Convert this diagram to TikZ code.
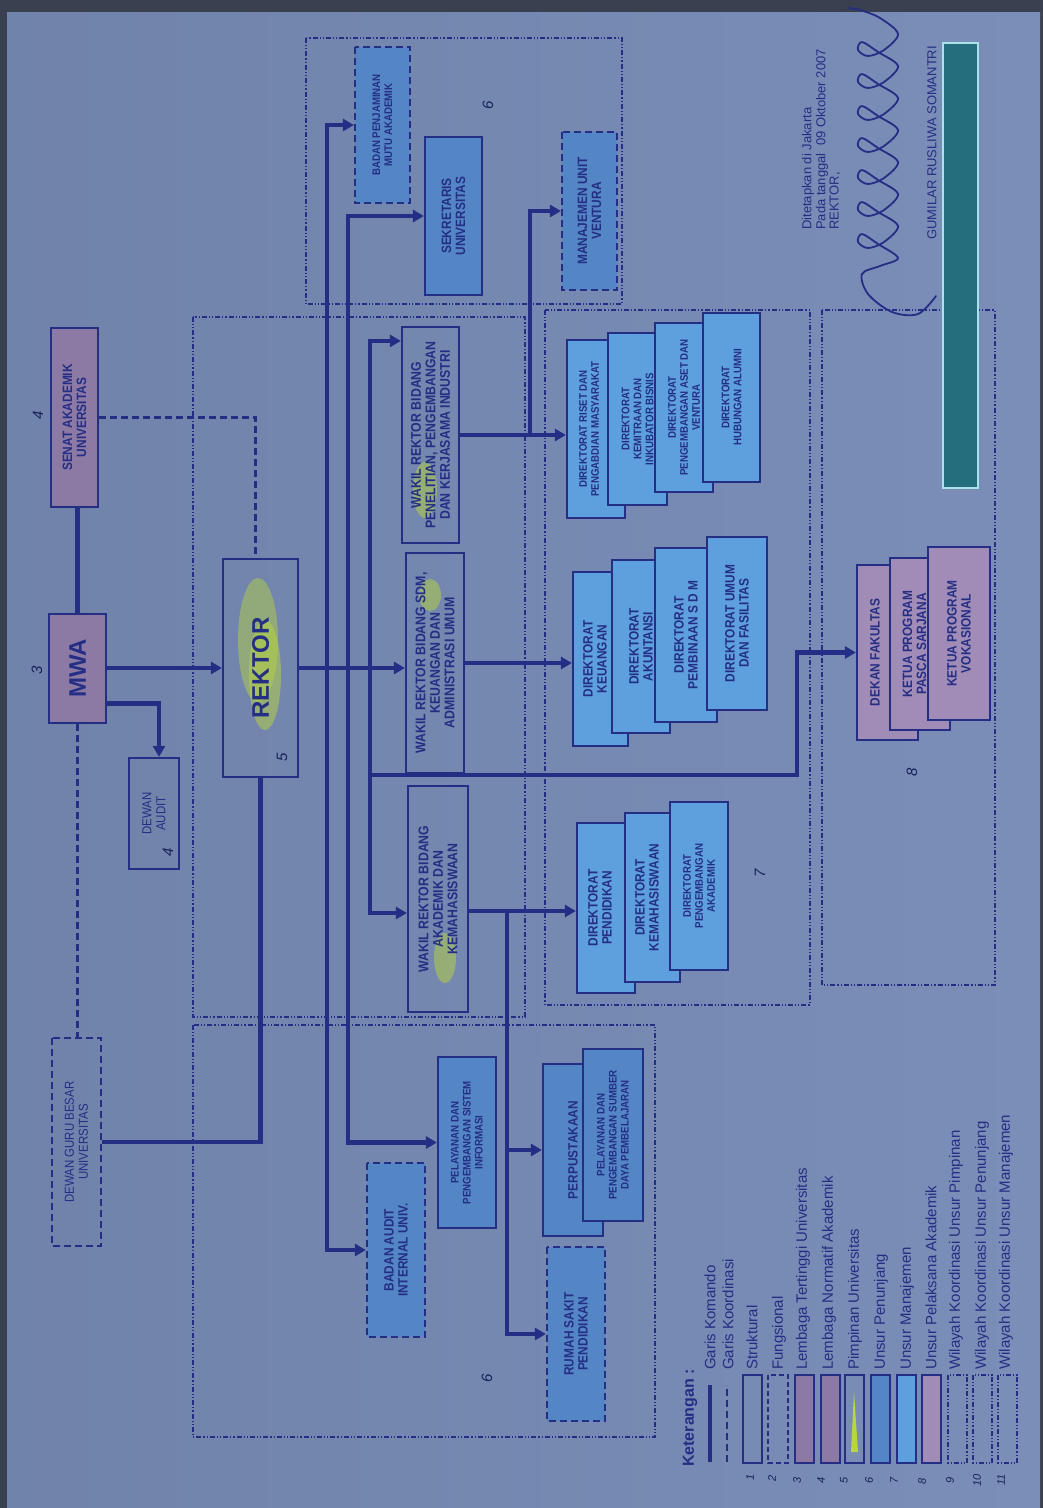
\documentclass[tikz,border=0pt]{standalone}
\usepackage{fontspec}
\setmainfont{Liberation Sans}
\newfontfamily\boxfont[FakeStretch=0.88]{Liberation Sans}
\usetikzlibrary{positioning, arrows.meta}
\definecolor{paper}{RGB}{122,142,184}
\definecolor{edge}{RGB}{58,64,80}
\definecolor{ink}{RGB}{36,46,132}
\definecolor{mauve}{RGB}{140,122,165}
\definecolor{pinky}{RGB}{160,140,182}
\definecolor{penblue}{RGB}{84,134,198}
\definecolor{manblue}{RGB}{94,160,222}
\definecolor{hilite}{RGB}{185,214,62}
\definecolor{redact}{RGB}{36,110,126}
\definecolor{redline}{RGB}{170,225,235}

\begin{document}
\begin{tikzpicture}[x=1pt, y=-1pt, font=\boxfont\bfseries, text=ink,
  box/.style={draw=ink, line width=2.2pt, rotate=90, align=center, inner sep=0pt},
  struk/.style={box}, fungs/.style={box, dash pattern=on 7pt off 4pt},
  lembaga/.style={box, fill=mauve}, penunjang/.style={box, fill=penblue},
  manaj/.style={box, fill=manblue}, pelaksana/.style={box, fill=pinky},
  lbl/.style={rotate=90, align=center, inner sep=0pt},
  fsbig/.style={font=\rmfamily\bfseries\fontsize{24}{24}\selectfont},
  fswr/.style={font=\boxfont\bfseries\fontsize{14}{14.5}\selectfont},
  fsmed/.style={font=\boxfont\bfseries\fontsize{13.5}{14}\selectfont},
  fssmall/.style={font=\boxfont\bfseries\fontsize{11}{12}\selectfont},
  fsplain/.style={font=\boxfont\mdseries\fontsize{13}{14}\selectfont},
  cmd/.style={draw=ink, line width=4.5pt},
  arrow/.style={cmd, -{Triangle[length=11pt,width=12pt]}},
  koord/.style={draw=ink, line width=2.2pt, dash pattern=on 7pt off 4pt},
  wilayah/.style={draw=ink, line width=1.4pt, dash pattern=on 5pt off 2pt on 1.2pt off 2pt on 1.2pt off 2pt},
  hand/.style={rotate=90, inner sep=0pt, font=\rmfamily\mdseries\itshape\fontsize{15}{15}\selectfont, text=ink!70!black},
  legtxt/.style={rotate=90, anchor=west, inner sep=0pt, font=\rmfamily\mdseries\fontsize{15}{15}\selectfont}]
\useasboundingbox (0,0) rectangle (1043,1508);
\fill[edge] (0,0) rectangle (1043,1508);
\shade[left color=paper!92!black, right color=paper] (7,12) rectangle (1040,1508);

\draw[wilayah] (306,38) rectangle (622,304);
\draw[wilayah] (193,317) rectangle (525,1017);
\draw[wilayah] (545,310) rectangle (810,1005);
\draw[wilayah] (822,310) rectangle (995,985);
\draw[wilayah] (193,1025) rectangle (655,1437);

\fill[hilite, opacity=0.45] (258,640) ellipse [x radius=20pt, y radius=62pt];
\fill[hilite, opacity=0.5] (265,675) ellipse [x radius=16pt, y radius=55pt];
\fill[hilite, opacity=0.5] (425,490) ellipse [x radius=12pt, y radius=28pt];
\fill[hilite, opacity=0.5] (430,595) ellipse [x radius=11pt, y radius=16pt];
\fill[hilite, opacity=0.5] (445,958) ellipse [x radius=11pt, y radius=25pt];

\coordinate (busA) at (327,665);
\coordinate (busB) at (348,665);
\coordinate (busC) at (370,665);
\coordinate (ventj) at (530,435);
\coordinate (penj) at (507,911);
\coordinate (fakturn) at (797,775);

\node[lembaga, fsmed, minimum width=179pt, minimum height=47pt] (senat) at (74.5,417.5) {SENAT AKADEMIK\\UNIVERSITAS};
\node[lembaga, fsbig, minimum width=109pt, minimum height=57pt] (mwa) at (77.5,668.5) {MWA};
\node[struk, fsplain, minimum width=111pt, minimum height=50pt] (audit) at (154,813.5) {DEWAN\\AUDIT};
\node[struk, fsbig, minimum width=218pt, minimum height=75pt] (rektor) at (260.5,668) {REKTOR};
\node[fungs, fsplain, minimum width=208pt, minimum height=49pt] (dgb) at (76.5,1142) {DEWAN GURU BESAR\\UNIVERSITAS};

\draw[cmd] (mwa.east) -- (mwa.east |- senat.west);
\draw[arrow] (mwa.south |- rektor.north) -- (rektor.north);
\draw[arrow] ([yshift=-35pt]mwa.south) -| ([xshift=5pt]audit.east);
\draw[koord] (senat.south) -| ([xshift=-5pt]rektor.east);
\draw[koord] (mwa.west) -- (mwa.west |- dgb.east);
\draw[cmd] (dgb.south) -| (rektor.west);

\node[fungs, fill=penblue, fssmall, minimum width=156pt, minimum height=55pt] (bpma) at (382.5,125) {BADAN PENJAMINAN\\MUTU AKADEMIK};
\node[penunjang, fsmed, minimum width=158pt, minimum height=57pt] (sekr) at (453.5,216) {SEKRETARIS\\UNIVERSITAS};
\node[fungs, fill=penblue, fsmed, minimum width=158pt, minimum height=55pt] (muv) at (589.5,211) {MANAJEMEN UNIT\\VENTURA};
\node[struk, fswr, minimum width=216pt, minimum height=57pt] (wrp) at (430.5,435) {WAKIL REKTOR BIDANG\\PENELITIAN, PENGEMBANGAN\\DAN KERJASAMA INDUSTRI};
\node[struk, fswr, minimum width=220pt, minimum height=58pt] (wrs) at (435,663) {WAKIL REKTOR BIDANG SDM,\\KEUANGAN DAN\\ADMINISTRASI UMUM};
\node[struk, fswr, minimum width=226pt, minimum height=60pt] (wra) at (438,899) {WAKIL REKTOR BIDANG\\AKADEMIK DAN\\KEMAHASISWAAN};

\node[manaj, minimum width=178pt, minimum height=58pt] (riset1) at (596,429) {};
\node[lbl, fssmall] (riset1t) at (589,429) {DIREKTORAT RISET DAN\\PENGABDIAN MASYARAKAT};
\node[manaj, fssmall, minimum width=172pt, minimum height=59pt] (riset2) at (637.5,419) {DIREKTORAT\\KEMITRAAN DAN\\INKUBATOR BISNIS};
\node[manaj, fssmall, minimum width=169pt, minimum height=58pt] (riset3) at (684,407.5) {DIREKTORAT\\PENGEMBANGAN ASET DAN\\VENTURA};
\node[manaj, fssmall, minimum width=169pt, minimum height=57pt] (riset4) at (731.5,397.5) {DIREKTORAT\\HUBUNGAN ALUMNI};

\node[manaj, minimum width=174pt, minimum height=55pt] (keu1) at (600.5,659) {};
\node[lbl, fsmed] (keu1t) at (595,659) {DIREKTORAT\\KEUANGAN};
\node[manaj, fsmed, minimum width=173pt, minimum height=58pt] (keu2) at (641,646.5) {DIREKTORAT\\AKUNTANSI};
\node[manaj, fsmed, minimum width=174pt, minimum height=62pt] (keu3) at (686,635) {DIREKTORAT\\PEMBINAAN S D M};
\node[manaj, fsmed, minimum width=173pt, minimum height=60pt] (keu4) at (737,623.5) {DIREKTORAT UMUM\\DAN FASILITAS};

\node[manaj, minimum width=170pt, minimum height=58pt] (pend1) at (606,908) {};
\node[lbl, fsmed] (pend1t) at (600,908) {DIREKTORAT\\PENDIDIKAN};
\node[manaj, minimum width=169pt, minimum height=55pt] (pend2) at (652.5,897.5) {};
\node[lbl, fsmed] (pend2t) at (647,897.5) {DIREKTORAT\\KEMAHASISWAAN};
\node[manaj, fssmall, minimum width=168pt, minimum height=58pt] (pend3) at (699,886) {DIREKTORAT\\PENGEMBANGAN\\AKADEMIK};

\node[pelaksana, minimum width=175pt, minimum height=61pt] (dekan) at (887.5,652.5) {};
\node[lbl, fsmed] (dekant) at (875,652.5) {DEKAN FAKULTAS};
\node[pelaksana, minimum width=172pt, minimum height=60pt] (pasca) at (920,644) {};
\node[lbl, fsmed] (pascat) at (914.5,644) {KETUA PROGRAM\\PASCA SARJANA};
\node[pelaksana, fsmed, minimum width=173pt, minimum height=62pt] (voka) at (959,633.5) {KETUA PROGRAM\\VOKASIONAL};

\node[fungs, fill=penblue, fsmed, minimum width=174pt, minimum height=58pt] (audint) at (396,1250) {BADAN AUDIT\\INTERNAL UNIV.};
\node[penunjang, fssmall, minimum width=171pt, minimum height=58pt] (psi) at (467,1142.5) {PELAYANAN DAN\\PENGEMBANGAN SISTEM\\INFORMASI};
\node[penunjang, fsmed, minimum width=172pt, minimum height=60pt] (perpus) at (573,1150) {PERPUSTAKAAN};
\node[penunjang, fssmall, minimum width=172pt, minimum height=60pt] (psdp) at (613,1135) {PELAYANAN DAN\\PENGEMBANGAN SUMBER\\DAYA PEMBELAJARAN};
\node[fungs, fill=penblue, fsmed, minimum width=174pt, minimum height=58pt] (rsp) at (576,1334) {RUMAH SAKIT\\PENDIDIKAN};

\draw[arrow] (rektor.south) -- (rektor.south -| wrs.north);
\draw[arrow] (busA) |- (bpma.north);
\draw[arrow] (busA) |- (audint.north);
\draw[arrow] (busB) |- (sekr.north);
\draw[arrow] (busB) |- (psi.north);
\draw[arrow] (busC) |- ([yshift=-15pt]wrp.north east);
\draw[arrow] (busC) |- ([yshift=-14pt]wra.north);
\draw[arrow] (busC |- fakturn) -- (fakturn) |- (dekan.north);
\draw[arrow] (wrp.south) -- (wrp.south -| riset1.north);
\draw[arrow] (ventj) |- (muv.north);
\draw[arrow] (wrs.south) -- (wrs.south -| keu1.north);
\draw[arrow] ([yshift=-12pt]wra.south) -- (penj -| pend1.north);
\draw[arrow] (penj) |- (perpus.north);
\draw[arrow] (penj) |- (rsp.north);

\node[hand] (h4a) at (38,415) {4};
\node[hand] (h3) at (37,670) {3};
\node[hand] (h4b) at (168,852) {4};
\node[hand] (h5) at (282,757) {5};
\node[hand] (h6a) at (488,105) {6};
\node[hand] (h6b) at (487,1378) {6};
\node[hand] (h7) at (760,873) {7};
\node[hand] (h8) at (912,772) {8};

\node[legtxt, font=\rmfamily\bfseries\fontsize{16}{16}\selectfont] (ket) at (690,1467) {Keterangan :};
\draw[cmd] (710,1462) -- (710,1385);
\node[legtxt] (lg1) at (710,1370) {Garis Komando};
\draw[koord] (727,1462) -- (727,1385);
\node[legtxt] (lg2) at (728,1370) {Garis Koordinasi};
\draw[draw=ink, line width=2pt] (743,1375) rectangle (762,1463);
\node[legtxt] (lg3) at (752,1370) {Struktural};
\draw[draw=ink, line width=2pt, dash pattern=on 5pt off 3pt] (768,1375) rectangle (788,1463);
\node[legtxt] (lg4) at (779,1370) {Fungsional};
\draw[draw=ink, fill=mauve, line width=2pt] (795,1375) rectangle (814,1463);
\node[legtxt] (lg5) at (803,1370) {Lembaga Tertinggi Universitas};
\draw[draw=ink, fill=mauve, line width=2pt] (821,1375) rectangle (840,1463);
\node[legtxt] (lg6) at (829,1370) {Lembaga Normatif Akademik};
\draw[draw=ink, line width=2pt] (845,1375) rectangle (864,1463);
\fill[hilite] (851,1452) -- (854,1392) -- (858,1452) -- cycle;
\node[legtxt] (lg7) at (855,1370) {Pimpinan Universitas};
\draw[draw=ink, fill=penblue, line width=2pt] (871,1375) rectangle (890,1463);
\node[legtxt] (lg8) at (881,1370) {Unsur Penunjang};
\draw[draw=ink, fill=manblue, line width=2pt] (897,1375) rectangle (916,1463);
\node[legtxt] (lg9) at (907,1370) {Unsur Manajemen};
\draw[draw=ink, fill=pinky, line width=2pt] (922,1375) rectangle (941,1463);
\node[legtxt] (lg10) at (931,1370) {Unsur Pelaksana Akademik};
\draw[wilayah] (948,1375) rectangle (967,1463);
\node[legtxt] (lg11) at (956,1370) {Wilayah Koordinasi Unsur Pimpinan};
\draw[wilayah] (973,1375) rectangle (992,1463);
\node[legtxt] (lg12) at (982,1370) {Wilayah Koordinasi Unsur Penunjang};
\draw[wilayah] (998,1375) rectangle (1017,1463);
\node[legtxt] (lg13) at (1006,1370) {Wilayah Koordinasi Unsur Manajemen};

\node[hand, font=\rmfamily\itshape\fontsize{11}{11}\selectfont] (n1) at (750,1477) {1};
\node[hand, font=\rmfamily\itshape\fontsize{11}{11}\selectfont] (n2) at (772,1478) {2};
\node[hand, font=\rmfamily\itshape\fontsize{11}{11}\selectfont] (n3) at (797,1480) {3};
\node[hand, font=\rmfamily\itshape\fontsize{11}{11}\selectfont] (n4) at (821,1480) {4};
\node[hand, font=\rmfamily\itshape\fontsize{11}{11}\selectfont] (n5) at (844,1480) {5};
\node[hand, font=\rmfamily\itshape\fontsize{11}{11}\selectfont] (n6) at (869,1480) {6};
\node[hand, font=\rmfamily\itshape\fontsize{11}{11}\selectfont] (n7) at (894,1480) {7};
\node[hand, font=\rmfamily\itshape\fontsize{11}{11}\selectfont] (n8) at (922,1481) {8};
\node[hand, font=\rmfamily\itshape\fontsize{11}{11}\selectfont] (n9) at (950,1480) {9};
\node[hand, font=\rmfamily\itshape\fontsize{11}{11}\selectfont] (n10) at (977,1480) {10};
\node[hand, font=\rmfamily\itshape\fontsize{11}{11}\selectfont] (n11) at (1001,1480) {11};

\node[legtxt, font=\rmfamily\mdseries\fontsize{13}{13}\selectfont] (sah1) at (808,230) {Ditetapkan di Jakarta};
\node[legtxt, font=\rmfamily\mdseries\fontsize{13}{13}\selectfont] (sah2) at (822,230) {Pada tanggal\ \ 09 Oktober 2007};
\node[legtxt, font=\rmfamily\mdseries\fontsize{13}{13}\selectfont] (sah3) at (835,230) {REKTOR,};
\node[legtxt, font=\rmfamily\mdseries\fontsize{13}{13}\selectfont] (rname) at (932,240) {GUMILAR RUSLIWA SOMANTRI};
\draw[ink, line width=1.8pt, line cap=round] plot[smooth, tension=0.55] coordinates {(936,296) (918,314) (892,312) (868,294) (862,274) (880,266) (898,258)
  (878,244) (862,234) (858,242) (868,248) (884,242) (898,226)
  (878,212) (862,202) (858,210) (868,216) (884,210) (898,194)
  (878,180) (862,170) (858,178) (868,184) (884,178) (898,162)
  (878,148) (862,138) (858,146) (868,152) (884,146) (898,130)
  (878,116) (862,106) (858,114) (868,120) (884,114) (898,98)
  (878,84) (862,74) (858,82) (868,88) (884,82) (898,66)
  (878,52) (862,42) (858,50) (868,56) (884,50) (898,34)
  (880,18) (860,10) (848,8)};
\draw[draw=redline, fill=redact, line width=1.5pt] (943,43) rectangle (978,488);
\end{tikzpicture}
\end{document}
